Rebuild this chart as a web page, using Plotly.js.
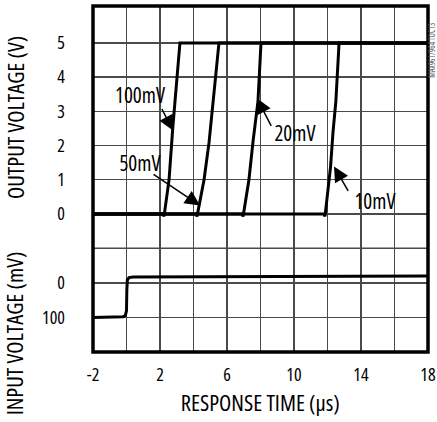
<!DOCTYPE html>
<html>
<head>
<meta charset="utf-8">
<script src="https://cdn.plot.ly/plotly-3.0.1.min.js"></script>
<style>
html,body{margin:0;padding:0;background:#fff;}
#chart{width:437px;height:422px;}
#chart text{font-stretch:condensed !important;}
</style>
</head>
<body>
<div id="chart"></div>
<script>
// Response time (µs) and output voltage (V) for each input overdrive
const t100 = [-2, 2.16, 2.24, 2.54, 2.76, 3.01, 3.19, 18];
const v100 = [0, 0, -0.07, 1, 2.5, 4, 5, 5];
const t50 = [-2, 4.13, 4.21, 4.63, 4.93, 5.28, 5.52, 18];
const v50 = [0, 0, -0.07, 1, 2.1, 3.9, 5, 5];
const t20 = [-2, 6.88, 6.96, 7.31, 7.55, 7.85, 8.03, 18];
const v20 = [0, 0, -0.07, 1, 2.1, 3.3, 5, 5];
const t10 = [-2, 11.77, 11.85, 12.18, 12.33, 12.5, 12.69, 18];
const v10 = [0, 0, -0.07, 1.37, 2.4, 3.3, 5, 5];
// Input voltage (mV)
const tIn = [-2, -0.5, -0.2, -0.07, 0.0, 0.02, 0.05, 0.15, 0.4, 18];
const vIn = [-100, -99.5, -98, -95, -80, -20, 8, 15, 17, 20];

const xTicks = [-2, 0, 2, 4, 6, 8, 10, 12, 14, 16, 18];
const xTickText = ['-2', '', '2', '', '6', '', '10', '', '14', '', '18'];
const yOutTicks = [-1, 0, 1, 2, 3, 4, 5];
const yOutText = ['', '0', '1', '2', '3', '4', '5'];
const yInTicks = [0, -100];
const yInText = ['0', '100'];

const labels = ['100mV', '50mV', '20mV', '10mV'];
const labelT = [0.81, 0.81, 10.06, 14.84];
const labelV = [3.47, 1.48, 2.36, 0.37];
const tipT = [2.78, 4.39, 7.79, 12.39];
const tipV = [2.44, 0.25, 3.38, 1.39];
const tailDx = [-12, -48, 15, 15];
const tailDy = [-23, -32, 29, 26];

const FONT = '"Open Sans", sans-serif';
const lineStyle = {color: '#000', width: 3};

const traces = [
  {x: t100, y: v100, mode: 'lines', line: lineStyle, xaxis: 'x', yaxis: 'y'},
  {x: t50, y: v50, mode: 'lines', line: lineStyle, xaxis: 'x', yaxis: 'y'},
  {x: t20, y: v20, mode: 'lines', line: lineStyle, xaxis: 'x', yaxis: 'y'},
  {x: t10, y: v10, mode: 'lines', line: lineStyle, xaxis: 'x', yaxis: 'y'},
  {x: tIn, y: vIn, mode: 'lines', line: lineStyle, xaxis: 'x', yaxis: 'y2'}
];

const gridColor = '#4a4a4a';
const annotations = [];
labels.forEach((txt, i) => {
  annotations.push({x: labelT[i], y: labelV[i], xref: 'x', yref: 'y', text: txt, showarrow: false,
    font: {size: 21, color: '#000', family: FONT}, xanchor: 'center', yanchor: 'middle'});
  annotations.push({x: tipT[i], y: tipV[i], xref: 'x', yref: 'y', text: '', showarrow: true,
    ax: tailDx[i], ay: tailDy[i], arrowhead: 2, arrowsize: 2.0, arrowwidth: 1.5, arrowcolor: '#000', standoff: 0});
});
annotations.push({x: -0.233, y: 0.679, xref: 'paper', yref: 'paper', text: 'OUTPUT VOLTAGE (V)', textangle: -90,
  showarrow: false, font: {size: 22.5, color: '#000', family: FONT}, xanchor: 'center', yanchor: 'middle'});
annotations.push({x: -0.233, y: 0.055, xref: 'paper', yref: 'paper', text: 'INPUT VOLTAGE (mV)', textangle: -90,
  showarrow: false, font: {size: 22.5, color: '#000', family: FONT}, xanchor: 'center', yanchor: 'middle'});
annotations.push({x: 0.5, y: -0.145, xref: 'paper', yref: 'paper', text: 'RESPONSE TIME (μs)',
  showarrow: false, font: {size: 22.5, color: '#000', family: FONT}, xanchor: 'center', yanchor: 'middle'});
annotations.push({x: 1.013, y: 0.873, xref: 'paper', yref: 'paper', text: 'MAX961/964 TOC13', textangle: -90,
  showarrow: false, font: {size: 8, color: '#555', family: FONT}, xanchor: 'center', yanchor: 'middle'});

const layout = {
  width: 437, height: 422,
  margin: {l: 93, r: 9, t: 6, b: 70},
  paper_bgcolor: '#fff', plot_bgcolor: '#fff',
  showlegend: false,
  font: {family: FONT, size: 18, color: '#000'},
  xaxis: {range: [-2, 18], tickmode: 'array', tickvals: xTicks, ticktext: xTickText,
    showgrid: true, gridcolor: gridColor, gridwidth: 1.4, zeroline: false, showline: false,
    ticks: '', anchor: 'y2', ticklabelstandoff: 10, ticklabeloverflow: 'allow', tickfont: {size: 18, family: FONT}},
  yaxis: {domain: [0.3, 1], range: [-1, 6.08], tickmode: 'array', tickvals: yOutTicks, ticktext: yOutText,
    showgrid: true, gridcolor: gridColor, gridwidth: 1.4, zeroline: false, showline: false,
    ticks: '', ticklabelstandoff: 27, tickfont: {size: 18, family: FONT}},
  yaxis2: {domain: [0, 0.3], range: [-200, 100], tickmode: 'array', tickvals: yInTicks, ticktext: yInText,
    showgrid: true, gridcolor: gridColor, gridwidth: 1.4, zeroline: false, showline: false,
    ticks: '', ticklabelstandoff: 27, tickfont: {size: 18, family: FONT}},
  shapes: [
    {type: 'line', xref: 'paper', yref: 'paper', x0: 0, x1: 1, y0: 0.3, y1: 0.3, line: {color: gridColor, width: 1.4}, layer: 'below'},
    {type: 'rect', xref: 'paper', yref: 'paper', x0: 0, x1: 1, y0: 0, y1: 1, line: {color: '#000', width: 3.5}, layer: 'above'}
  ],
  annotations: annotations
};

Plotly.newPlot('chart', traces, layout, {displayModeBar: false, staticPlot: true});
</script>
</body>
</html>
